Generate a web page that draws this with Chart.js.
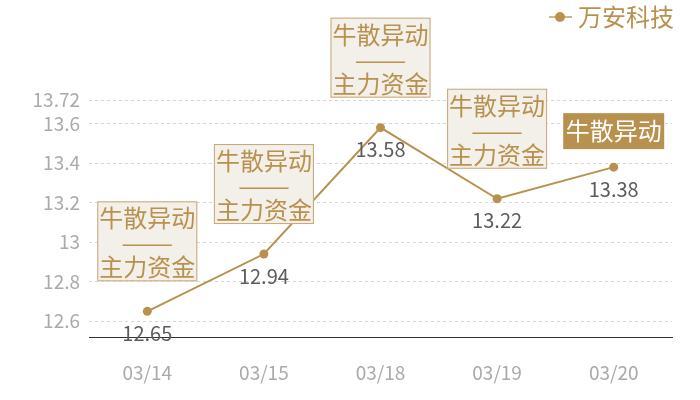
<!DOCTYPE html>
<html>
<head>
<meta charset="utf-8">
<script src="https://cdn.jsdelivr.net/npm/chart.js@4/dist/chart.umd.min.js"></script>
<style>
  html, body { margin: 0; padding: 0; background: #fff; }
</style>
</head>
<body>
<canvas id="chart" width="700" height="400"></canvas>
<script>
// data
const dates = ["03/14", "03/15", "03/18", "03/19", "03/20"];
const prices = [12.65, 12.94, 13.58, 13.22, 13.38];
const notes = [
    ["牛散异动", "——", "主力资金"],
    ["牛散异动", "——", "主力资金"],
    ["牛散异动", "——", "主力资金"],
    ["牛散异动", "——", "主力资金"],
    ["牛散异动"]
];
const seriesName = "万安科技";
const yTicks = [12.6, 12.8, 13, 13.2, 13.4, 13.6, 13.72];
const yMin = 12.52;
const yMax = 13.72;

const gold = "#b8914f";
const font_family = "'Noto Sans CJK SC', 'Noto Sans', sans-serif";

// value labels, note boxes and the legend
const notePlugin = {
    id: "notes",
    afterDatasetsDraw(chart){
        const ctx = chart.ctx;
        const meta = chart.getDatasetMeta(0);
        ctx.save();
        for(let i = 0; i < meta.data.length; i++){
            const pt = meta.data[i];

            // value under the point
            ctx.font = "20px " + font_family;
            ctx.fillStyle = "#5c5c5c";
            ctx.textAlign = "center";
            ctx.textBaseline = "middle";
            ctx.fillText(String(prices[i]), pt.x, pt.y + 22);

            // box above the point
            const lines = notes[i];
            ctx.font = "24px " + font_family;
            if(lines.length > 1){
                const w = 100, h = 80;
                const bx = pt.x - w / 2, by = pt.y - 30 - h;
                ctx.fillStyle = "#f3efe9";
                ctx.fillRect(bx, by, w, h);
                ctx.strokeStyle = "#c7a777";
                ctx.lineWidth = 1;
                ctx.strokeRect(bx + 0.5, by + 0.5, w - 1, h - 1);
                ctx.fillStyle = gold;
                ctx.fillText(lines[0], pt.x, by + 17);
                // the dash row is stretched to full width like the original font
                const dw = ctx.measureText(lines[1]).width;
                ctx.save();
                ctx.translate(pt.x, by + 42);
                ctx.scale(52 / dw, 1);
                ctx.fillText(lines[1], 0, 0);
                ctx.restore();
                ctx.fillText(lines[2], pt.x, by + 66);
            } else {
                const w = 101, h = 36;
                const bx = pt.x - w / 2, by = pt.y - 18 - h;
                ctx.fillStyle = gold;
                ctx.fillRect(bx, by, w, h);
                ctx.fillStyle = "#ffffff";
                ctx.fillText(lines[0], pt.x, by + h / 2);
            }
        }
        ctx.restore();
    },
    afterDraw(chart){
        const ctx = chart.ctx;
        ctx.save();
        ctx.strokeStyle = "#cfb68c";
        ctx.lineWidth = 2;
        ctx.beginPath();
        ctx.moveTo(549, 17);
        ctx.lineTo(572, 17);
        ctx.stroke();
        ctx.fillStyle = gold;
        ctx.beginPath();
        ctx.arc(560, 17, 5, 0, Math.PI * 2);
        ctx.fill();
        ctx.font = "24px " + font_family;
        ctx.textAlign = "left";
        ctx.textBaseline = "middle";
        ctx.fillText(chart.data.datasets[0].label, 578, 17);
        ctx.restore();
    }
};

new Chart(document.getElementById("chart").getContext("2d"), {
    type: "line",
    data: {
        labels: dates,
        datasets: [{
            label: seriesName,
            data: prices,
            borderColor: gold,
            backgroundColor: gold,
            borderWidth: 2,
            pointRadius: 4.5,
            pointBorderWidth: 0,
            pointBackgroundColor: gold,
            tension: 0
        }]
    },
    options: {
        responsive: false,
        animation: false,
        devicePixelRatio: 1,
        layout: { padding: { top: 100, right: 28, left: 0, bottom: 0 } },
        plugins: {
            legend: { display: false },
            tooltip: { enabled: false }
        },
        scales: {
            x: {
                offset: true,
                grid: { display: false, drawTicks: false },
                border: { display: true, color: "#333333", width: 1 },
                ticks: {
                    color: "#aaaaaa",
                    padding: 24,
                    font: { size: 19, family: font_family }
                },
                afterFit(scale){ scale.height = 63; }
            },
            y: {
                min: yMin,
                max: yMax,
                afterBuildTicks(scale){
                    scale.ticks = yTicks.map(v => ({ value: v }));
                },
                grid: { color: "#d6d6d6", drawTicks: false },
                border: { display: false, dash: [3, 3] },
                ticks: {
                    color: "#aaaaaa",
                    padding: 9,
                    font: { size: 19, family: font_family },
                    callback: v => String(parseFloat(v.toFixed(2)))
                },
                afterFit(scale){ scale.width = 89; }
            }
        }
    },
    plugins: [notePlugin]
});
</script>
</body>
</html>
